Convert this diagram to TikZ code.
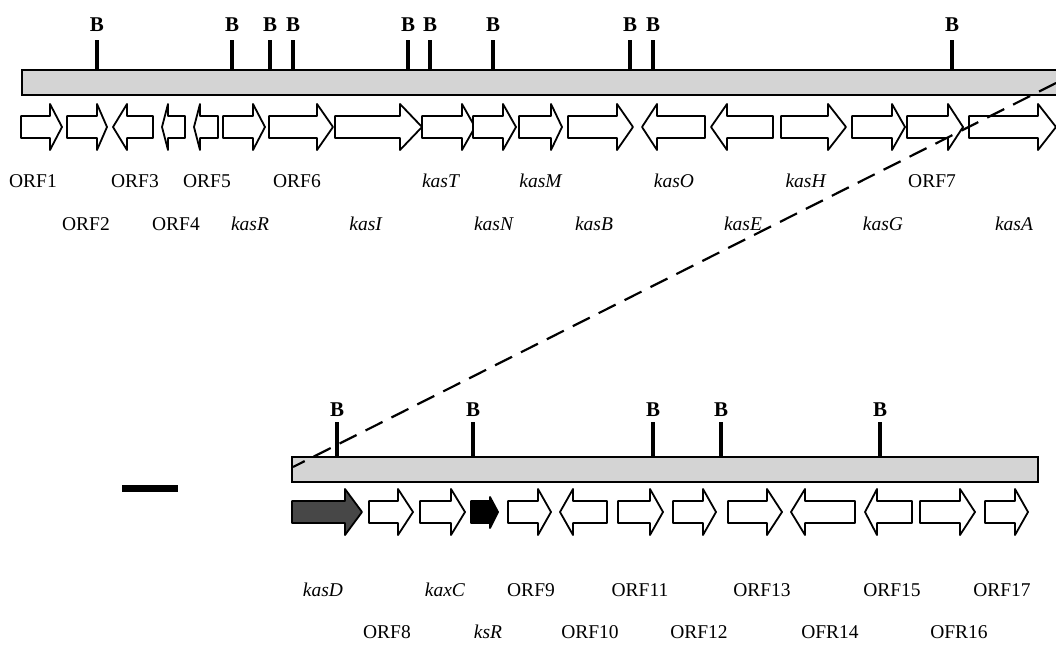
\documentclass[tikz,border=0pt]{standalone}
\usepackage{fontspec}
\setmainfont{Liberation Serif}
\begin{document}
\begin{tikzpicture}[x=1pt,y=-1pt,
  bar/.style={draw=black,line width=1.4pt,fill=black!17},
  tick/.style={line width=3.6pt},
  gene/.style={draw=black,line width=1.8pt,fill=white,line join=round},
  lab/.style={inner sep=0pt,font=\fontsize{19.5}{22}\selectfont},
  blab/.style={inner sep=0pt,font=\fontsize{21}{24}\selectfont\bfseries},
  dashline/.style={line width=2.2pt,dash pattern=on 19pt off 10pt}]
\useasboundingbox (0,0) rectangle (1056,645);
% right arrow: left, base, tip, ycenter, style
\newcommand\rarr[5]{\draw[#5] (#1,#4-11) -- (#2,#4-11) -- (#2,#4-23) -- (#3,#4) -- (#2,#4+23) -- (#2,#4+11) -- (#1,#4+11) -- cycle;}
% left arrow: tip, base, right, ycenter, style
\newcommand\larr[5]{\draw[#5] (#3,#4-11) -- (#2,#4-11) -- (#2,#4-23) -- (#1,#4) -- (#2,#4+23) -- (#2,#4+11) -- (#3,#4+11) -- cycle;}

% ---------- top bar ----------
\foreach \x/\n in {97/t1,232/t2,270/t3,293/t4,408/t5,430/t6,493/t7,630/t8,653/t9,952/t10}{
  \draw[tick] (\x,40) -- (\x,70);
  \node[blab] (\n) at (\x,25) {B};
}
\draw[bar] (22,70) rectangle (1060,95);
\coordinate (topend) at (1056,83);

% top genes
\rarr{21}{50}{62}{127}{gene}
\rarr{67}{97}{107}{127}{gene}
\larr{113}{127}{153}{127}{gene}
\larr{162}{168}{185}{127}{gene}
\larr{194}{200}{218}{127}{gene}
\rarr{223}{253}{265}{127}{gene}
\rarr{269}{317}{333}{127}{gene}
\rarr{335}{400}{422}{127}{gene}
\rarr{422}{462}{475}{127}{gene}
\rarr{473}{503}{516}{127}{gene}
\rarr{519}{551}{562}{127}{gene}
\rarr{568}{617}{633}{127}{gene}
\larr{642}{657}{705}{127}{gene}
\larr{711}{727}{773}{127}{gene}
\rarr{781}{828}{846}{127}{gene}
\rarr{852}{892}{905}{127}{gene}
\rarr{907}{948}{963}{127}{gene}
\rarr{969}{1038}{1056}{127}{gene}

% top labels
\node[lab] (orf1) at (33,181) {ORF1};
\node[lab] (orf3) at (135,181) {ORF3};
\node[lab] (orf5) at (207,181) {ORF5};
\node[lab] (orf6) at (297,181) {ORF6};
\node[lab] (kasT) at (441,181) {\textit{kasT}};
\node[lab] (kasM) at (541,181) {\textit{kasM}};
\node[lab] (kasO) at (674,181) {\textit{kasO}};
\node[lab] (kasH) at (806,181) {\textit{kasH}};
\node[lab] (orf7) at (932,181) {ORF7};
\node[lab] (orf2) at (86,224) {ORF2};
\node[lab] (orf4) at (176,224) {ORF4};
\node[lab] (kasR) at (250,224) {\textit{kasR}};
\node[lab] (kasI) at (366,224) {\textit{kasI}};
\node[lab] (kasN) at (494,224) {\textit{kasN}};
\node[lab] (kasB) at (594,224) {\textit{kasB}};
\node[lab] (kasE) at (743,224) {\textit{kasE}};
\node[lab] (kasG) at (883,224) {\textit{kasG}};
\node[lab] (kasA) at (1014,224) {\textit{kasA}};

% ---------- bottom bar ----------
\foreach \x/\n in {337/b1,473/b2,653/b3,721/b4,880/b5}{
  \draw[tick] (\x,422) -- (\x,457);
  \node[blab] (\n) at (\x,410) {B};
}
\draw[bar] (292,457) rectangle (1038,482);
\coordinate (botend) at (293,467);

% bottom genes
\rarr{292}{345}{362}{512}{gene,fill=black!72}
\rarr{369}{398}{413}{512}{gene}
\rarr{420}{451}{465}{512}{gene}
\draw[gene,fill=black] (471,501) -- (490,501) -- (490,497) -- (498,512) -- (490,528) -- (490,523) -- (471,523) -- cycle;
\rarr{508}{538}{551}{512}{gene}
\larr{560}{573}{607}{512}{gene}
\rarr{618}{650}{663}{512}{gene}
\rarr{673}{703}{716}{512}{gene}
\rarr{728}{767}{782}{512}{gene}
\larr{791}{805}{855}{512}{gene}
\larr{865}{877}{912}{512}{gene}
\rarr{920}{960}{975}{512}{gene}
\rarr{985}{1015}{1028}{512}{gene}

% bottom labels
\node[lab] (kasD) at (323,590) {\textit{kasD}};
\node[lab] (kaxC) at (445,590) {\textit{kaxC}};
\node[lab] (orf9) at (531,590) {ORF9};
\node[lab] (orf11) at (640,590) {ORF11};
\node[lab] (orf13) at (762,590) {ORF13};
\node[lab] (orf15) at (892,590) {ORF15};
\node[lab] (orf17) at (1002,590) {ORF17};
\node[lab] (orf8) at (387,632) {ORF8};
\node[lab] (ksR) at (488,632) {\textit{ksR}};
\node[lab] (orf10) at (590,632) {ORF10};
\node[lab] (orf12) at (699,632) {ORF12};
\node[lab] (ofr14) at (830,632) {OFR14};
\node[lab] (ofr16) at (959,632) {OFR16};

% scale bar
\fill (122,485) rectangle (178,492);

% dashed zoom line
\draw[dashline] (topend) -- (botend);
\end{tikzpicture}
\end{document}
